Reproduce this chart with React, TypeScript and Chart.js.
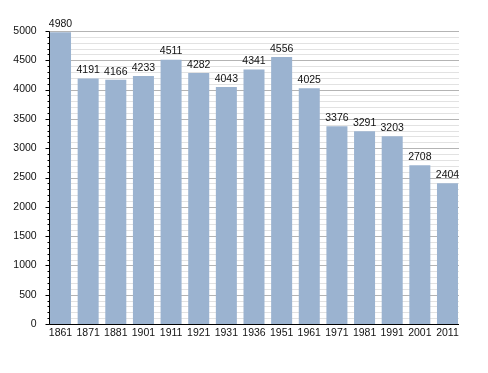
import React, { useEffect, useRef } from "react";
import { Chart, registerables } from "chart.js";

Chart.register(...registerables);

const years = ["1861", "1871", "1881", "1901", "1911", "1921", "1931", "1936", "1951", "1961", "1971", "1981", "1991", "2001", "2011"];
const population = [4980, 4191, 4166, 4233, 4511, 4282, 4043, 4341, 4556, 4025, 3376, 3291, 3203, 2708, 2404];
const yMin = 0;
const yMax = 5000;
const minorStep = 100;
const majorStep = 500;

const FONT = "'Liberation Sans', Arial, sans-serif";

const customPlugin = {
  id: "customGrid",
  beforeDatasetsDraw(chart: any) {
    const { ctx } = chart;
    const y = chart.scales.y;
    const bars = chart.getDatasetMeta(0).data;
    const first = bars[0];
    const last = bars[bars.length - 1];
    const left = Math.round(first.x - first.width / 2) - 0.5;
    const right = Math.round(last.x + last.width / 2) + 1;
    ctx.save();
    ctx.lineWidth = 1;
    y.ticks.forEach((t: any) => {
      const py = Math.round(y.getPixelForValue(t.value)) + 0.5;
      const major = t.value % majorStep === 0;
      ctx.strokeStyle = major ? "#b4b4b4" : "#e2e2e2";
      ctx.beginPath();
      ctx.moveTo(left, py);
      ctx.lineTo(right, py);
      ctx.stroke();
    });
    ctx.restore();
  },
  afterDatasetsDraw(chart: any) {
    const { ctx } = chart;
    const y = chart.scales.y;
    const meta = chart.getDatasetMeta(0);
    const bars = meta.data;
    const first = bars[0];
    const last = bars[bars.length - 1];
    const left = Math.round(first.x - first.width / 2) - 0.5;
    const right = Math.round(last.x + last.width / 2) + 1;
    const bottom = Math.round(y.getPixelForValue(yMin)) + 0.5;
    const top = Math.round(y.getPixelForValue(yMax)) + 0.5;
    ctx.save();
    ctx.strokeStyle = "#000";
    ctx.lineWidth = 1;
    ctx.beginPath();
    ctx.moveTo(left, top);
    ctx.lineTo(left, bottom);
    ctx.moveTo(left, bottom);
    ctx.lineTo(right, bottom);
    y.ticks.forEach((t: any) => {
      const py = Math.round(y.getPixelForValue(t.value)) + 0.5;
      const major = t.value % majorStep === 0;
      ctx.moveTo(left - (major ? 4 : 2), py);
      ctx.lineTo(left, py);
    });
    ctx.stroke();
    ctx.fillStyle = "#111";
    ctx.font = `10.5px ${FONT}`;
    ctx.textAlign = "center";
    ctx.textBaseline = "bottom";
    bars.forEach((b: any, i: number) => {
      ctx.fillText(String(population[i]), b.x, b.y - 3);
    });
    ctx.restore();
  },
};

export default function App() {
  const ref = useRef<HTMLCanvasElement>(null);
  useEffect(() => {
    document.body.style.margin = "0";
    const chart = new Chart(ref.current!, {
      type: "bar",
      data: {
        labels: years,
        datasets: [
          {
            data: population,
            backgroundColor: "#9bb3d0",
            borderWidth: 0,
            categoryPercentage: 1,
            barPercentage: 0.76,
          },
        ],
      },
      options: {
        responsive: false,
        animation: false,
        layout: { padding: { top: 31, right: 26.7, bottom: 0, left: 0 } },
        plugins: { legend: { display: false }, tooltip: { enabled: false } },
        scales: {
          x: {
            offset: true,
            grid: { display: false, drawTicks: false },
            border: { display: false },
            ticks: { color: "#111", font: { family: FONT, size: 10.5 }, padding: 3, maxRotation: 0, autoSkip: false },
            afterFit: (s: any) => {
              s.height = 49;
            },
          },
          y: {
            min: yMin,
            max: yMax,
            grid: { display: false, drawTicks: false },
            border: { display: false },
            ticks: {
              stepSize: minorStep,
              autoSkip: false,
              color: "#111",
              font: { family: FONT, size: 10.5 },
              padding: 10,
              callback: (v: any) => (Number(v) % majorStep === 0 ? String(v) : ""),
            },
            afterFit: (s: any) => {
              s.width = 46.7;
            },
          },
        },
      },
      plugins: [customPlugin],
    });
    return () => chart.destroy();
  }, []);
  return (
    <div style={{ position: "absolute", left: 0, top: 0, width: 488, height: 373 }}>
      <canvas ref={ref} width={488} height={373} />
    </div>
  );
}
